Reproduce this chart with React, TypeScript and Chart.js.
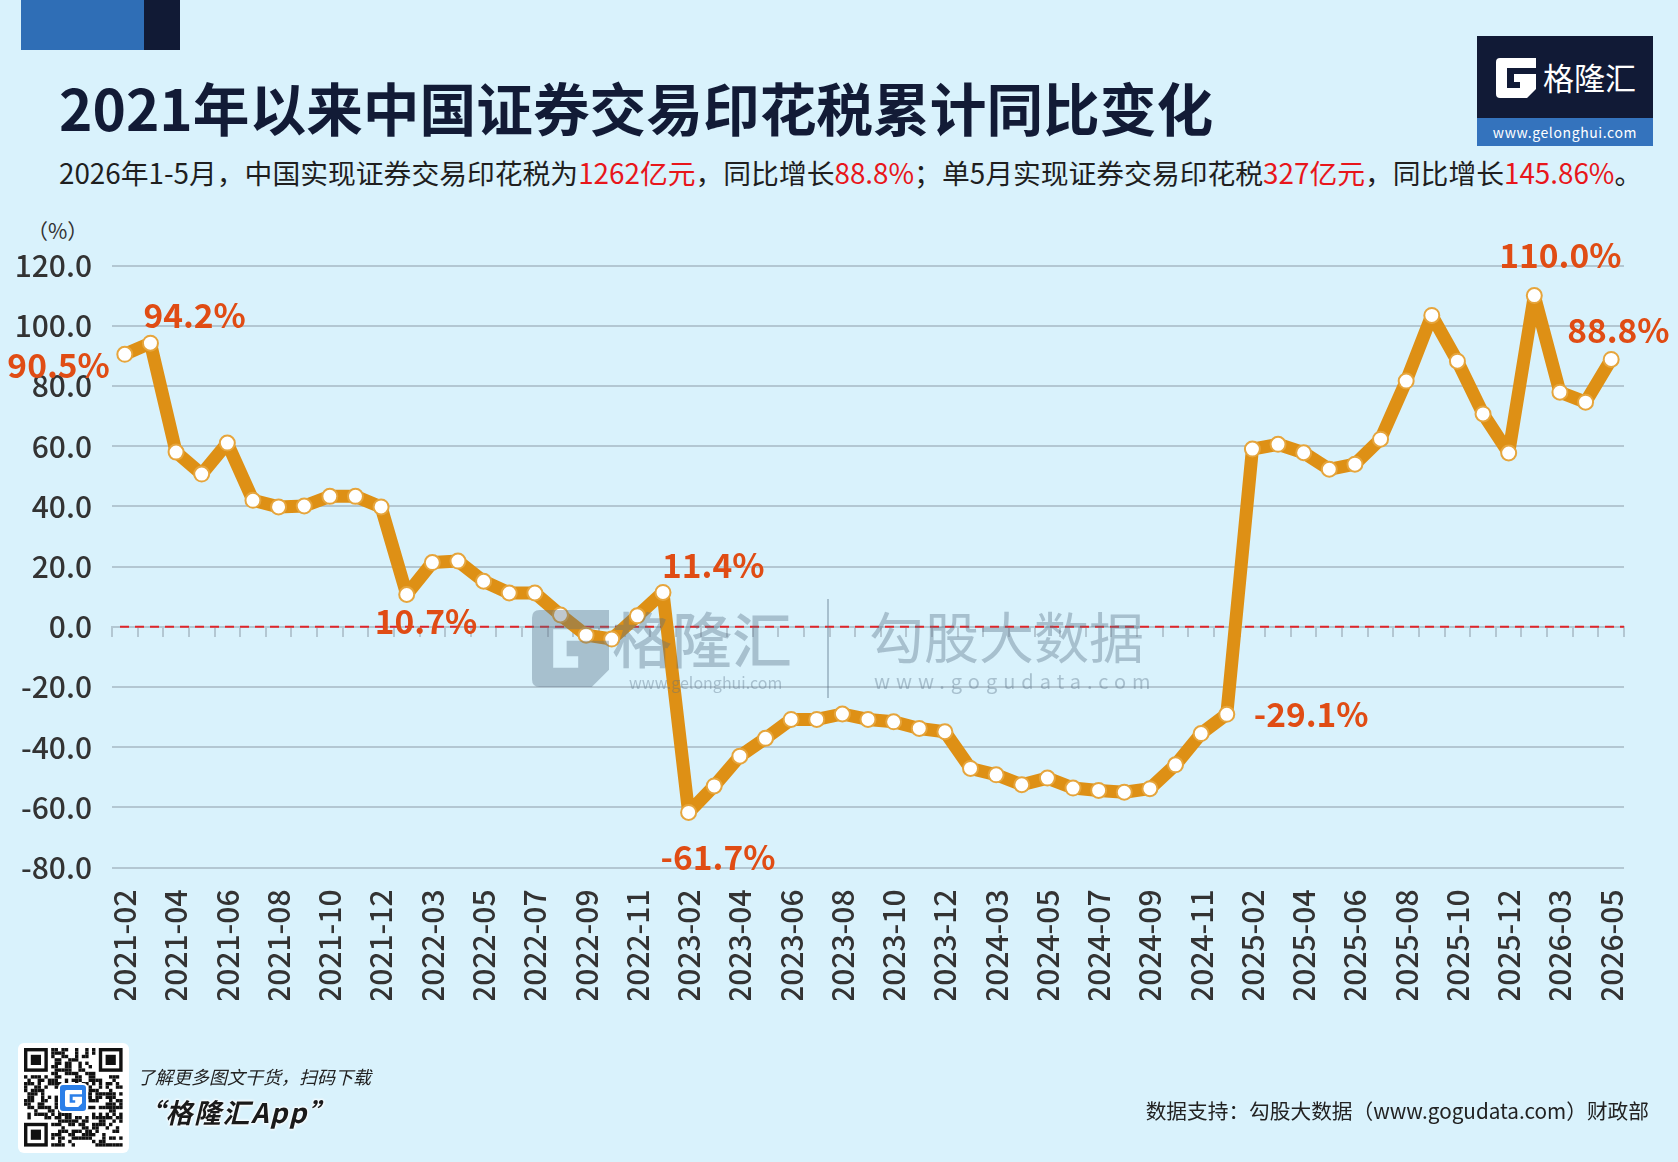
import React, { useEffect, useRef } from 'react';
import { Chart, registerables } from 'chart.js';

Chart.register(...registerables);

// ---------------- data ----------------
const CATEGORIES: string[] = [
  '2021-02', '2021-03', '2021-04', '2021-05', '2021-06', '2021-07', '2021-08', '2021-09', '2021-10', '2021-11', '2021-12',
  '2022-02', '2022-03', '2022-04', '2022-05', '2022-06', '2022-07', '2022-08', '2022-09', '2022-10', '2022-11', '2022-12',
  '2023-02', '2023-03', '2023-04', '2023-05', '2023-06', '2023-07', '2023-08', '2023-09', '2023-10', '2023-11', '2023-12',
  '2024-02', '2024-03', '2024-04', '2024-05', '2024-06', '2024-07', '2024-08', '2024-09', '2024-10', '2024-11', '2024-12',
  '2025-02', '2025-03', '2025-04', '2025-05', '2025-06', '2025-07', '2025-08', '2025-09', '2025-10', '2025-11', '2025-12',
  '2026-02', '2026-03', '2026-04', '2026-05',
];

const YOY_PERCENT: number[] = [
  90.5, 94.2, 58.0, 50.7, 61.0, 42.0, 39.8, 40.1, 43.3, 43.3, 39.8,
  10.7, 21.3, 21.8, 15.1, 11.2, 11.2, 3.9, -2.8, -4.1, 3.6, 11.4,
  -61.7, -52.9, -43.0, -37.1, -30.8, -30.8, -29.0, -30.8, -31.6, -33.8, -34.9,
  -47.1, -49.2, -52.5, -50.3, -53.6, -54.4, -55.0, -53.8, -45.9, -35.5, -29.1,
  59.0, 60.6, 57.8, 52.3, 54.0, 62.3, 81.6, 103.4, 88.2, 70.7, 57.7,
  110.0, 77.9, 74.6, 88.8,
];

const X_TICK_LABELS: string[] = [
  '2021-02', '2021-04', '2021-06', '2021-08', '2021-10', '2021-12',
  '2022-03', '2022-05', '2022-07', '2022-09', '2022-11',
  '2023-02', '2023-04', '2023-06', '2023-08', '2023-10', '2023-12',
  '2024-03', '2024-05', '2024-07', '2024-09', '2024-11',
  '2025-02', '2025-04', '2025-06', '2025-08', '2025-10', '2025-12',
  '2026-03', '2026-05',
];

const Y_TICKS: number[] = [120, 100, 80, 60, 40, 20, 0, -20, -40, -60, -80];

const ANNOTATED: string[] = ['2021-02', '2021-03', '2022-02', '2022-12', '2023-02', '2024-12', '2026-02', '2026-05'];

const TITLE = '2021年以来中国证券交易印花税累计同比变化';

// ---------------- styling / placement ----------------
const FONT = '"Noto Sans CJK SC", "Noto Sans", sans-serif';
const LINE_COLOR = '#DE9015';
const LABEL_COLOR = '#E04C14';
const GRID_COLOR = '#b3c7d2';
const BG = '#d9f2fc';

const LABEL_PLACEMENT: Record<string, { dx: number; dy: number; align: 'left' | 'right' }> = {
  '2021-02': { dx: -15, dy: 11, align: 'right' },
  '2021-03': { dx: -7, dy: -28, align: 'left' },
  '2022-02': { dx: -32, dy: 27, align: 'left' },
  '2022-12': { dx: -1, dy: -27, align: 'left' },
  '2023-02': { dx: -28, dy: 45, align: 'left' },
  '2024-12': { dx: 27, dy: 0, align: 'left' },
  '2026-02': { dx: -35, dy: -40, align: 'left' },
  '2026-05': { dx: -44, dy: -29, align: 'left' },
};

const valueLabelPlugin = {
  id: 'valueLabels',
  afterDatasetsDraw(chart: any) {
    const { ctx } = chart;
    const meta = chart.getDatasetMeta(0);
    ctx.save();
    ctx.font = `bold 33.5px ${FONT}`;
    ctx.fillStyle = LABEL_COLOR;
    ctx.textBaseline = 'middle';
    ANNOTATED.forEach((cat) => {
      const i = CATEGORIES.indexOf(cat);
      const el = meta.data[i];
      const p = LABEL_PLACEMENT[cat];
      ctx.textAlign = p.align;
      ctx.fillText(`${YOY_PERCENT[i].toFixed(1)}%`, el.x + p.dx, el.y + p.dy);
    });
    ctx.restore();
  },
};

const zeroLinePlugin = {
  id: 'zeroLine',
  beforeDatasetsDraw(chart: any) {
    const { ctx, chartArea, scales } = chart;
    const y = scales.y.getPixelForValue(0);
    ctx.save();
    ctx.strokeStyle = '#e0262b';
    ctx.lineWidth = 2;
    ctx.setLineDash([9, 6]);
    ctx.beginPath();
    ctx.moveTo(chartArea.left + 8, y);
    ctx.lineTo(chartArea.right, y);
    ctx.stroke();
    ctx.restore();
  },
};

function GIcon({ size, color }: { size: number; color: string }) {
  return (
    <svg width={size} height={size} viewBox="0 0 40 40" style={{ display: 'block' }}>
      <path d="M4 0 H40 V10 H11 V30 H24 V24 H18 V16 H40 V31 L31 40 H4 Q0 40 0 36 V4 Q0 0 4 0 Z" fill={color} />
    </svg>
  );
}

function QRCode() {
  const n = 29;
  const m = 3.4;
  const cells: React.ReactElement[] = [];
  const inFinder = (x: number, y: number) =>
    (x < 8 && y < 8) || (x > n - 9 && y < 8) || (x < 8 && y > n - 9);
  const finder = (fx: number, fy: number, key: string) => (
    <g key={key}>
      <rect x={fx * m} y={fy * m} width={7 * m} height={7 * m} fill="#111" />
      <rect x={fx * m + m} y={fy * m + m} width={5 * m} height={5 * m} fill="#fff" />
      <rect x={fx * m + 2 * m} y={fy * m + 2 * m} width={3 * m} height={3 * m} fill="#111" />
    </g>
  );
  for (let y = 0; y < n; y++) {
    for (let x = 0; x < n; x++) {
      if (inFinder(x, y)) continue;
      let h = (x * 374761393 + y * 668265263) | 0;
      h = Math.imul(h ^ (h >>> 13), 1274126177);
      h = (h ^ (h >>> 16)) >>> 0;
      if (h % 100 < 48) cells.push(<rect key={`${x}-${y}`} x={x * m} y={y * m} width={m} height={m} fill="#111" />);
    }
  }
  return (
    <div style={{ position: 'absolute', left: 18, top: 1043, width: 111, height: 110, background: '#fff', borderRadius: 6 }}>
      <svg width={100} height={100} style={{ position: 'absolute', left: 6, top: 5 }}>
        {cells}
        {finder(0, 0, 'a')}
        {finder(n - 7, 0, 'b')}
        {finder(0, n - 7, 'c')}
      </svg>
      <div style={{ position: 'absolute', left: 40, top: 40, width: 30, height: 30, background: '#2b7fe8', borderRadius: 5, border: '2px solid #fff', boxSizing: 'border-box', display: 'flex', alignItems: 'center', justifyContent: 'center' }}>
        <GIcon size={17} color="#fff" />
      </div>
    </div>
  );
}

function LineChart() {
  const ref = useRef<HTMLCanvasElement | null>(null);
  useEffect(() => {
    if (!ref.current) return;
    const chart = new Chart(ref.current, {
      type: 'line',
      data: {
        labels: CATEGORIES,
        datasets: [
          {
            data: YOY_PERCENT,
            borderColor: LINE_COLOR,
            borderWidth: 13,
            borderJoinStyle: 'round',
            borderCapStyle: 'round',
            tension: 0,
            pointRadius: 7.5,
            pointBackgroundColor: '#ffffff',
            pointBorderColor: '#E6A53C',
            pointBorderWidth: 2,
            clip: false as any,
          },
        ],
      },
      options: {
        responsive: false,
        animation: false,
        layout: { padding: { top: 65.5, right: 54, bottom: 20, left: 0 } },
        plugins: { legend: { display: false }, tooltip: { enabled: false } },
        scales: {
          x: {
            type: 'category',
            offset: true,
            grid: { display: false, drawTicks: false },
            border: { display: false },
            ticks: {
              autoSkip: false,
              minRotation: 90,
              maxRotation: 90,
              padding: 22,
              color: '#333333',
              font: { family: FONT, size: 30, weight: 500 as any },
              callback: (_v: any, i: number) => (X_TICK_LABELS.includes(CATEGORIES[i]) ? CATEGORIES[i] : ''),
            },
            afterFit: (s: any) => {
              s.height = 132.5;
            },
          },
          x2: {
            type: 'category',
            axis: 'x',
            position: { y: 0 } as any,
            offset: true,
            grid: { display: true, offset: true, drawOnChartArea: false, drawTicks: true, tickLength: 9, color: GRID_COLOR, lineWidth: 2 },
            border: { display: true, color: GRID_COLOR, width: 2 },
            ticks: { display: false, autoSkip: false },
          } as any,
          y: {
            min: -80,
            max: 120,
            grid: { color: GRID_COLOR, lineWidth: 2, drawTicks: false },
            border: { display: false },
            afterBuildTicks: (s: any) => {
              s.ticks = Y_TICKS.map((v) => ({ value: v }));
            },
            ticks: {
              padding: 20,
              color: '#333333',
              font: { family: FONT, size: 30, weight: 500 as any },
              callback: (v: any) => Number(v).toFixed(1),
            },
            afterFit: (s: any) => {
              s.width = 112;
            },
          },
        },
      },
      plugins: [zeroLinePlugin, valueLabelPlugin],
    } as any);
    return () => chart.destroy();
  }, []);
  return (
    <canvas
      ref={ref}
      width={1678}
      height={820}
      style={{ position: 'absolute', left: 0, top: 200, width: 1678, height: 820 }}
    />
  );
}

const abs = (o: React.CSSProperties): React.CSSProperties => ({ position: 'absolute', whiteSpace: 'nowrap', ...o });

export default function App() {
  const red = { color: '#e8161b' };
  const wm = 'rgba(88,110,132,0.38)';
  return (
    <div style={{ position: 'absolute', left: 0, top: 0, width: 1678, height: 1162, background: BG, overflow: 'hidden', fontFamily: FONT }}>
      {/* top-left bar */}
      <div style={abs({ left: 21, top: 0, width: 123, height: 50, background: '#2f6eb6' })} />
      <div style={abs({ left: 144, top: 0, width: 36, height: 50, background: '#111a35' })} />

      {/* title */}
      <div style={abs({ left: 59, top: 78, fontSize: 56.7, lineHeight: '56.7px', fontWeight: 700, color: '#121b36' })}>{TITLE}</div>

      {/* subtitle */}
      <div style={abs({ left: 59, top: 159, fontSize: 27.8, lineHeight: '27.8px', fontWeight: 400, color: '#1f1f1f' })}>
        2026年1-5月，中国实现证券交易印花税为<span style={red}>1262亿元</span>，同比增长<span style={red}>88.8%</span>；单5月实现证券交易印花税<span style={red}>327亿元</span>，同比增长<span style={red}>145.86%</span>。
      </div>

      {/* logo */}
      <div style={abs({ left: 1477, top: 36, width: 176, height: 110, background: '#111a36' })}>
        <div style={abs({ left: 19, top: 22 })}>
          <GIcon size={40} color="#ffffff" />
        </div>
        <div style={abs({ left: 66, top: 25, fontSize: 31, lineHeight: '31px', color: '#fff', fontWeight: 400 })}>格隆汇</div>
        <div style={abs({ left: 0, top: 82, width: 176, height: 28, background: '#3473bd', color: '#fff', fontSize: 14, lineHeight: '28px', textAlign: 'center', letterSpacing: 0.6 })}>
          www.gelonghui.com
        </div>
      </div>

      {/* y unit */}
      <div style={abs({ left: 27, top: 220, fontSize: 21, lineHeight: '21px', color: '#333' })}>（%）</div>

      <LineChart />

      {/* watermark */}
      <div style={abs({ left: 0, top: 0, width: 1678, height: 1162, pointerEvents: 'none' })}>
        <div style={abs({ left: 532, top: 610 })}>
          <GIcon size={77} color={wm} />
        </div>
        <div style={abs({ left: 612, top: 607, fontSize: 60, lineHeight: '60px', color: wm, fontWeight: 500 })}>格隆汇</div>
        <div style={abs({ left: 629, top: 674, fontSize: 16, lineHeight: '16px', color: wm })}>www.gelonghui.com</div>
        <div style={abs({ left: 827, top: 599, width: 2, height: 99, background: wm })} />
        <div style={abs({ left: 869, top: 607, fontSize: 55, lineHeight: '55px', color: wm })}>勾股大数据</div>
        <div style={abs({ left: 874, top: 671, fontSize: 20, lineHeight: '20px', color: wm, letterSpacing: 6 })}>www.gogudata.com</div>
      </div>

      {/* footer */}
      <QRCode />
      <div style={abs({ left: 137, top: 1067, fontSize: 18, lineHeight: '18px', fontStyle: 'italic', color: '#222' })}>了解更多图文干货，扫码下载</div>
      <div
        style={abs({
          left: 137,
          top: 1098,
          fontSize: 27,
          lineHeight: '27px',
          fontStyle: 'italic',
          fontWeight: 700,
          letterSpacing: 1.5,
          color: '#1a1a1a',
          textShadow: '0 0 3px #fff, 0 0 3px #fff, 0 0 3px #fff',
        })}
      >
        “格隆汇App”
      </div>
      <div style={abs({ right: 1678 - 1649, top: 1100, fontSize: 20.7, lineHeight: '20.7px', color: '#222' })}>
        数据支持：勾股大数据（www.gogudata.com）财政部
      </div>
    </div>
  );
}
